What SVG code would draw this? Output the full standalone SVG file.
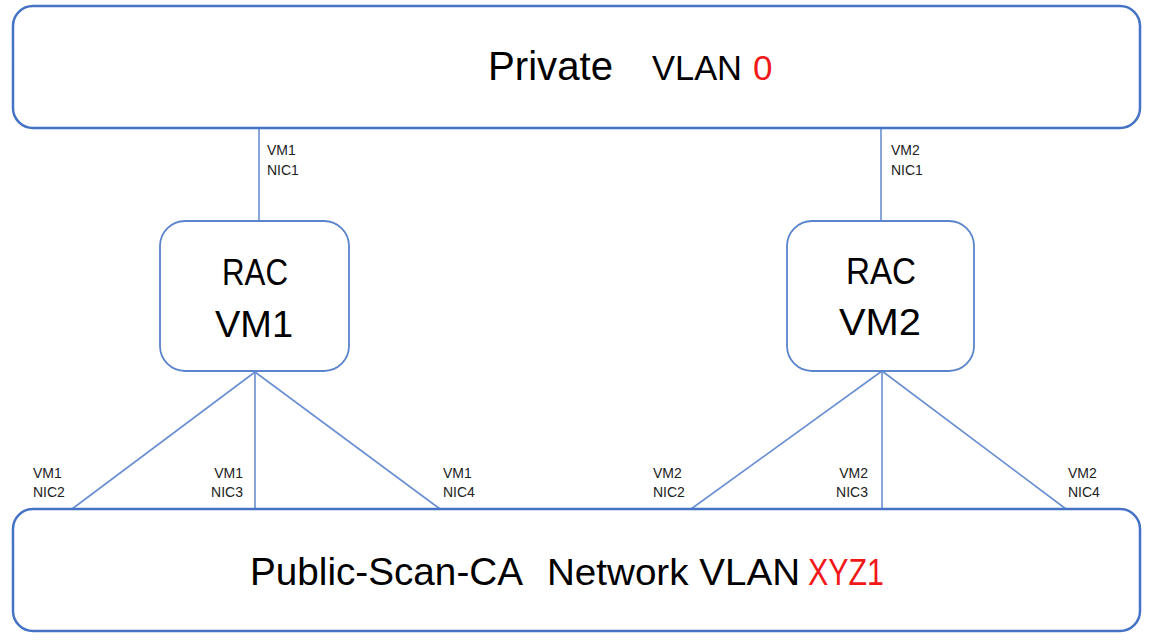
<svg xmlns="http://www.w3.org/2000/svg" width="1160" height="644" viewBox="0 0 1160 644">
<style>
.box{fill:#ffffff;stroke:#4472C4;stroke-width:2.5}
.vm{fill:#ffffff;stroke:#5b84cc;stroke-width:1.8}
.ln{stroke:#6a8fd2;stroke-width:1.6;fill:none}
.big{font-family:"Liberation Sans",Arial,sans-serif;fill:#000}
.red{fill:#f01818}
.lbl{font-family:"Liberation Sans",Arial,sans-serif;font-size:14px;fill:#222}
</style>
<rect width="1160" height="644" fill="#ffffff"/>
<g id="connectors">
<line class="ln" x1="259" y1="128" x2="259" y2="221"/>
<line class="ln" x1="881" y1="128" x2="881" y2="221"/>
<line class="ln" x1="255" y1="372" x2="72" y2="509"/>
<line class="ln" x1="255" y1="372" x2="255" y2="509"/>
<line class="ln" x1="255" y1="372" x2="440" y2="509"/>
<line class="ln" x1="882" y1="371" x2="691" y2="509"/>
<line class="ln" x1="882" y1="371" x2="882" y2="509"/>
<line class="ln" x1="882" y1="371" x2="1066" y2="509"/>
<text class="lbl" x="267" y="155">VM1</text>
<text class="lbl" x="267" y="175">NIC1</text>
<text class="lbl" x="891" y="155">VM2</text>
<text class="lbl" x="891" y="175">NIC1</text>
<text class="lbl" x="33" y="478">VM1</text>
<text class="lbl" x="33" y="497">NIC2</text>
<text class="lbl" x="243" y="478" text-anchor="end">VM1</text>
<text class="lbl" x="243" y="497" text-anchor="end">NIC3</text>
<text class="lbl" x="443" y="478">VM1</text>
<text class="lbl" x="443" y="497">NIC4</text>
<text class="lbl" x="653" y="478">VM2</text>
<text class="lbl" x="653" y="497">NIC2</text>
<text class="lbl" x="868" y="478" text-anchor="end">VM2</text>
<text class="lbl" x="868" y="497" text-anchor="end">NIC3</text>
<text class="lbl" x="1068" y="478">VM2</text>
<text class="lbl" x="1068" y="497">NIC4</text>
</g>
<g id="private">
<rect class="box" x="13" y="6" width="1127" height="122" rx="20"/>
<text class="big" x="488" y="80" font-size="40" textLength="125" lengthAdjust="spacingAndGlyphs">Private</text>
<text class="big" x="652" y="80" font-size="35" textLength="90" lengthAdjust="spacingAndGlyphs">VLAN</text>
<text class="big red" x="753" y="80" font-size="35">0</text>
</g>
<g id="racvm1">
<rect class="vm" x="160" y="221" width="189" height="150" rx="25"/>
<text class="big" x="255" y="285" font-size="36" text-anchor="middle" textLength="66" lengthAdjust="spacingAndGlyphs">RAC</text>
<text class="big" x="254" y="337" font-size="36" text-anchor="middle" textLength="78" lengthAdjust="spacingAndGlyphs">VM1</text>
</g>
<g id="racvm2">
<rect class="vm" x="787" y="221" width="187" height="150" rx="25"/>
<text class="big" x="881" y="284" font-size="37" text-anchor="middle" textLength="70" lengthAdjust="spacingAndGlyphs">RAC</text>
<text class="big" x="880" y="335" font-size="37" text-anchor="middle" textLength="82" lengthAdjust="spacingAndGlyphs">VM2</text>
</g>
<g id="public">
<rect class="box" x="13" y="509" width="1127" height="122" rx="20"/>
<text class="big" x="250" y="585" font-size="39" textLength="273" lengthAdjust="spacingAndGlyphs">Public-Scan-CA</text>
<text class="big" x="547" y="585" font-size="37" textLength="253" lengthAdjust="spacingAndGlyphs">Network VLAN</text>
<text class="big red" x="808" y="585" font-size="37" textLength="76" lengthAdjust="spacingAndGlyphs">XYZ1</text>
</g>
</svg>
